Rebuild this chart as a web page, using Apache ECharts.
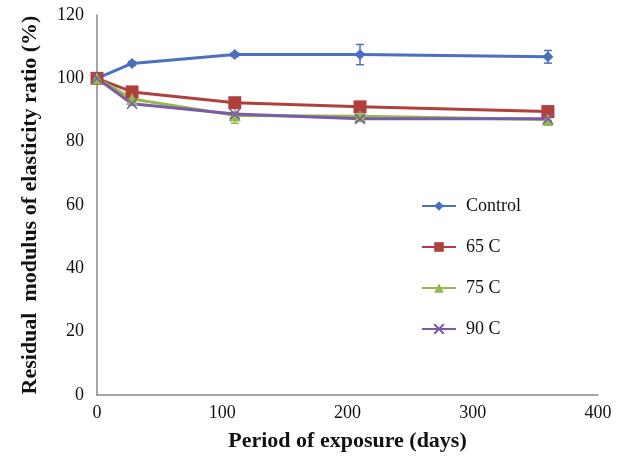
<!DOCTYPE html>
<html>
<head>
<meta charset="utf-8">
<script src="https://cdn.jsdelivr.net/npm/echarts@6/dist/echarts.min.js"></script>
<style>
  html, body { margin: 0; padding: 0; background: #fff; }
  #chart { width: 627px; height: 459px; }
</style>
</head>
<body>
<div id="chart"></div>
<script>
// Exposure periods (days)
const days = [0, 28, 110, 210, 360];

// Residual modulus of elasticity ratio (%) per treatment
const control = [100, 104.7, 107.5, 107.5, 106.8];
const c65 = [100, 95.7, 92.3, 91.0, 89.5];
const c75 = [100, 93.5, 88.3, 88.0, 87.0];
const c90 = [100, 92.0, 88.7, 87.2, 87.2];

// Standard deviations shown as error bars
const controlErr = [0, 0.6, 0.6, 3.2, 2.0];
const c65Err = [0, 0.4, 0.5, 0.5, 0.8];
const c75Err = [0, 0.5, 2.5, 0.5, 1.8];
const c90Err = [0, 0.4, 0.5, 0.5, 0.5];

const names = ['Control', '65 C', '75 C', '90 C'];
const colors = ['#4A70C0', '#B0403C', '#92B84E', '#7B5BA6'];
const xTicks = [0, 100, 200, 300, 400];
const yTicks = [0, 20, 40, 60, 80, 100, 120];

const serif = '"Liberation Serif", "Times New Roman", serif';

function pairs(vals) { return days.map((d, i) => [d, vals[i]]); }

function errorSeries(vals, errs, color) {
  return {
    type: 'custom',
    silent: true,
    z: 1,
    data: days.map((d, i) => [d, vals[i], errs[i]]),
    renderItem: function (params, api) {
      const x = api.value(0), y = api.value(1), e = api.value(2);
      if (!e) return null;
      const hi = api.coord([x, y + e]);
      const lo = api.coord([x, y - e]);
      const w = 4;
      const style = { stroke: color, lineWidth: 1.5 };
      return {
        type: 'group',
        children: [
          { type: 'line', shape: { x1: hi[0], y1: hi[1], x2: lo[0], y2: lo[1] }, style: style },
          { type: 'line', shape: { x1: hi[0] - w, y1: hi[1], x2: hi[0] + w, y2: hi[1] }, style: style },
          { type: 'line', shape: { x1: lo[0] - w, y1: lo[1], x2: lo[0] + w, y2: lo[1] }, style: style }
        ]
      };
    }
  };
}

const symbols = ['diamond', 'rect', 'triangle', 'path://M0,0L10,10M10,0L0,10'];
const symbolSizes = [11, 13, 12, 10];
const seriesVals = [control, c65, c75, c90];
const seriesErrs = [controlErr, c65Err, c75Err, c90Err];

const series = [];
seriesVals.forEach((vals, k) => {
  series.push(errorSeries(vals, seriesErrs[k], colors[k]));
});
seriesVals.forEach((vals, k) => {
  const isCross = k === 3;
  series.push({
    name: names[k],
    type: 'line',
    z: 3,
    data: pairs(vals),
    symbol: symbols[k],
    symbolSize: symbolSizes[k],
    showAllSymbol: true,
    lineStyle: { color: colors[k], width: 3 },
    itemStyle: isCross
      ? { color: 'none', borderColor: colors[k], borderWidth: 1.5 }
      : { color: colors[k], borderColor: colors[k], borderWidth: 0 },
    emphasis: { disabled: true }
  });
});

const chart = echarts.init(document.getElementById('chart'), null, { renderer: 'canvas' });
chart.setOption({
  animation: false,
  backgroundColor: '#fff',
  grid: { left: 97, right: 29, top: 15, bottom: 64, containLabel: false },
  legend: {
    data: names,
    orient: 'vertical',
    left: 416,
    top: 192,
    itemWidth: 34,
    itemHeight: 12,
    itemGap: 23,
    textStyle: { fontFamily: serif, fontSize: 18, color: '#111', padding: [0, 0, 0, 5] }
  },
  xAxis: {
    type: 'value',
    min: xTicks[0],
    max: xTicks[xTicks.length - 1],
    interval: 100,
    name: 'Period of exposure (days)',
    nameLocation: 'middle',
    nameGap: 35,
    nameTextStyle: { fontFamily: serif, fontSize: 22, fontWeight: 'bold', color: '#111' },
    axisLine: { lineStyle: { color: '#888', width: 1.5 } },
    axisTick: { show: false },
    splitLine: { show: false },
    axisLabel: { fontFamily: serif, fontSize: 18, color: '#111', margin: 9 }
  },
  yAxis: {
    type: 'value',
    min: yTicks[0],
    max: yTicks[yTicks.length - 1],
    interval: 20,
    name: 'Residual  modulus of elasticity ratio (%)',
    nameLocation: 'middle',
    nameGap: 56,
    nameTextStyle: { fontFamily: serif, fontSize: 22, fontWeight: 'bold', color: '#111' },
    axisLine: { show: true, lineStyle: { color: '#888', width: 1.5 } },
    axisTick: { show: false },
    splitLine: { show: false },
    axisLabel: { fontFamily: serif, fontSize: 18, color: '#111', margin: 13 }
  },
  series: series
});
</script>
</body>
</html>
